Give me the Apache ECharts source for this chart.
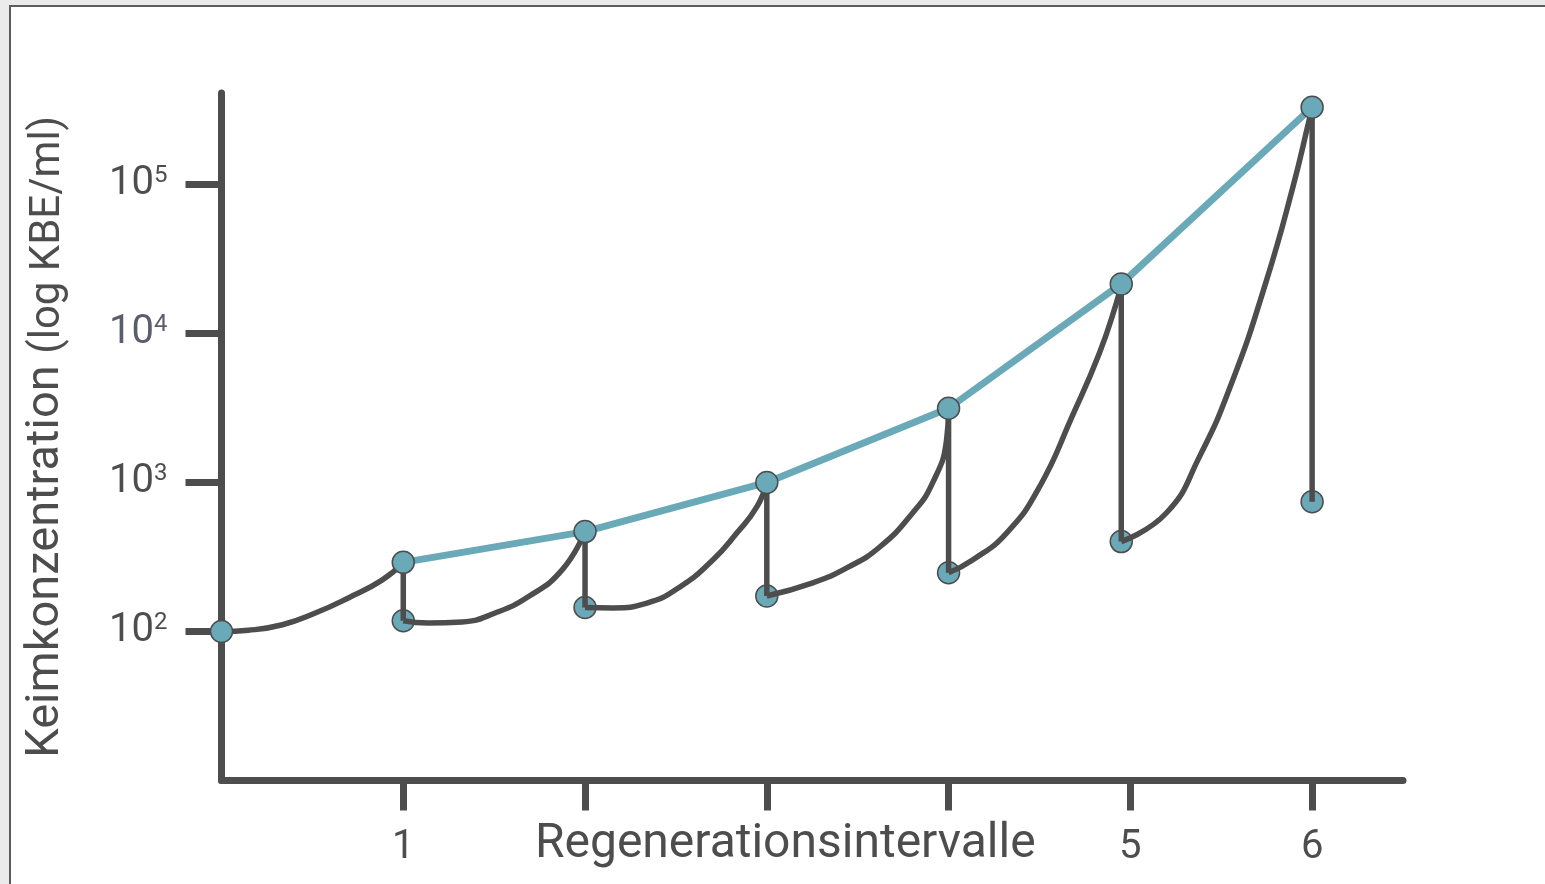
<!DOCTYPE html>
<html>
<head>
<meta charset="utf-8">
<title>Keimkonzentration</title>
<script src="https://cdn.jsdelivr.net/npm/echarts@6/dist/echarts.min.js"></script>
<style>
  html, body { margin: 0; padding: 0; width: 1545px; height: 884px; overflow: hidden; background: #ebebeb; }
  #frame { position: absolute; left: 9px; top: 5px; width: 1560px; height: 900px; background: #fff; border-left: 2px solid #5c5c5c; border-top: 2px solid #5c5c5c; }
  #chart { position: absolute; left: 0; top: 0; width: 1545px; height: 884px; }
</style>
</head>
<body>
<div id="frame"></div>
<div id="chart"></div>
<script>
// x: Regenerationsintervalle, y: KBE/ml (log)
const xTicks = [1, 2, 3, 4, 5, 6];
const xLabels = [1, 5, 6];
const yTicks = [100, 1000, 10000, 100000];
const yExponents = ["2", "3", "4", "5"];

const startPoint = [0, 100];
const peakX = [1, 2, 3, 4, 4.95, 6];
const peakY = [291, 468, 1000, 3150, 21500, 330000];
const troughY = [118, 145, 173, 248, 401, 743];

// growth curves (start -> next peak)
const growth0 = [[0, 100], [0.148, 102], [0.335, 111], [0.516, 133], [0.698, 168], [0.885, 222], [1, 291]];
const growth1 = [[1, 118], [1.137, 114], [1.324, 116], [1.505, 133], [1.687, 171], [1.874, 259], [2, 468]];
const growth2 = [[2, 145], [2.154, 144], [2.341, 155], [2.522, 199], [2.703, 302], [2.835, 458], [2.945, 685], [3, 1000]];
const growth3 = [[3, 173], [3.253, 212], [3.44, 267], [3.621, 369], [3.802, 624], [3.912, 993], [3.989, 1930], [4, 3150]];
const growth4 = [[4, 248], [4.132, 302], [4.319, 458], [4.5, 933], [4.681, 2800], [4.83, 7400], [4.923, 16000], [4.95, 21500]];
const growth5 = [[4.95, 401], [5.198, 624], [5.379, 1480], [5.56, 4750], [5.747, 22300], [5.89, 91800], [5.984, 271000], [6, 330000]];
const growthCurves = [growth0, growth1, growth2, growth3, growth4, growth5];

const dark = "#4d4d4d";
const blue = "#6aa9b8";
const font = "Roboto";

const chart = echarts.init(document.getElementById("chart"));

const peaks = peakX.map((x, i) => [x, peakY[i]]);
const troughs = peakX.map((x, i) => [x, troughY[i]]);

const darkLine = (data, smooth) => ({
  type: "line",
  data: data,
  smooth: smooth,
  showSymbol: false,
  silent: true,
  z: 3,
  lineStyle: { color: dark, width: 5.5 },
});

const marker = { color: blue, borderColor: dark, borderWidth: 1.5, opacity: 1 };

const series = [];
series.push({ type: "scatter", data: troughs, symbolSize: 22, z: 2, itemStyle: marker });
growthCurves.forEach((c) => series.push(darkLine(c, 0.5)));
peaks.forEach((p, i) => series.push(darkLine([p, troughs[i]], false)));
series.push({
  type: "line",
  data: peaks,
  showSymbol: false,
  z: 4,
  lineStyle: { color: blue, width: 7 },
});
series.push({ type: "scatter", data: [startPoint].concat(peaks), symbolSize: 22, z: 5, itemStyle: marker });

const option = {
  animation: false,
  backgroundColor: "transparent",
  grid: { left: 221.5, right: 142, top: 93, bottom: 103.5, containLabel: false, outerBoundsMode: "none" },
  xAxis: {
    type: "value",
    min: 0,
    max: 6.5,
    interval: 1,
    name: "Regenerationsintervalle",
    nameLocation: "middle",
    nameGap: 40,
    nameMoveOverlap: false,
    nameTextStyle: { fontFamily: font, fontSize: 48, color: dark, padding: [0, 54, 0, 0] },
    splitLine: { show: false },
    axisLine: { onZero: false, lineStyle: { color: dark, width: 7 } },
    axisTick: { customValues: xTicks, length: 30, lineStyle: { color: dark, width: 7 } },
    axisLabel: { customValues: xLabels, margin: 47, fontFamily: font, fontSize: 40, color: dark },
  },
  yAxis: {
    type: "log",
    logBase: 10,
    min: 10,
    max: 411000,
    name: "{a|Keimkonzentration }{b|(log KBE/ml)}",
    nameLocation: "middle",
    nameGap: 152,
    nameMoveOverlap: false,
    nameTextStyle: {
      color: dark,
      rich: {
        a: { fontFamily: font, fontSize: 47, color: dark, lineHeight: 58, verticalAlign: "bottom" },
        b: { fontFamily: font, fontSize: 42, color: dark, lineHeight: 54, verticalAlign: "bottom" },
      },
    },
    splitLine: { show: false },
    axisLine: { lineStyle: { color: dark, width: 7 } },
    axisTick: { customValues: yTicks, length: 36, lineStyle: { color: dark, width: 7 } },
    axisLabel: {
      customValues: yTicks,
      margin: 54,
      formatter: (v) => {
        const i = yTicks.indexOf(v);
        const e = i >= 0 ? yExponents[i] : "";
        return i === 2 ? "{c|10}{d|" + e + "}" : "{b|10}{s|" + e + "}";
      },
      rich: {
        b: { fontFamily: font, fontSize: 40, color: dark, lineHeight: 40, verticalAlign: "bottom" },
        s: { fontFamily: font, fontSize: 24, color: dark, lineHeight: 18, verticalAlign: "top" },
        c: { fontFamily: font, fontSize: 40, color: "#5a5e6c", lineHeight: 40, verticalAlign: "bottom" },
        d: { fontFamily: font, fontSize: 24, color: "#5a5e6c", lineHeight: 18, verticalAlign: "top" },
      },
    },
  },
  series: series,
};

chart.setOption(option);
</script>
</body>
</html>
